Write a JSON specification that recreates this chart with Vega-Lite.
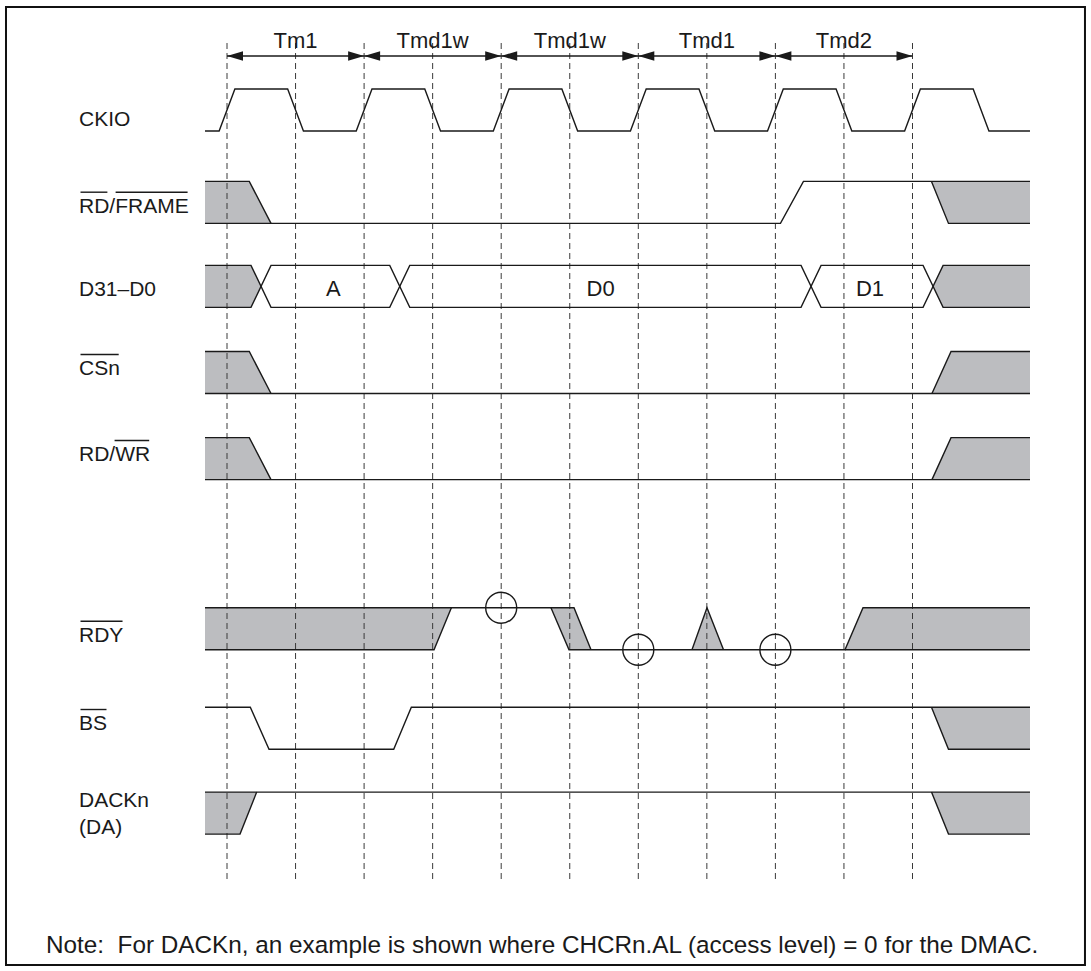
{
  "$schema": "https://vega.github.io/schema/vega-lite/v6.json",
  "width": 1091,
  "height": 971,
  "autosize": {"type": "fit", "contains": "padding"},
  "padding": 0,
  "background": "white",
  "config": {"view": {"stroke": null}},
  "datasets": {
    "border": [{"t": -3.224, "t2": 12.516, "v": 22.952, "v2": 0.143}],
    "ticks": [
      {"t": 0, "v": 22.095, "v2": 2.167}, {"t": 1, "v": 22.095, "v2": 2.167}, {"t": 2, "v": 22.095, "v2": 2.167},
      {"t": 3, "v": 22.095, "v2": 2.167}, {"t": 4, "v": 22.095, "v2": 2.167}, {"t": 5, "v": 22.095, "v2": 2.167},
      {"t": 6, "v": 22.095, "v2": 2.167}, {"t": 7, "v": 22.095, "v2": 2.167}, {"t": 8, "v": 22.095, "v2": 2.167},
      {"t": 9, "v": 22.095, "v2": 2.167}, {"t": 10, "v": 22.095, "v2": 2.167}
    ],
    "spans": [
      {"t": 0, "t2": 2, "v": 21.786}, {"t": 2, "t2": 4, "v": 21.786}, {"t": 4, "t2": 6, "v": 21.786},
      {"t": 6, "t2": 8, "v": 21.786}, {"t": 8, "t2": 10, "v": 21.786}
    ],
    "heads": [
      {"t": 0, "v": 21.786, "dir": "L"}, {"t": 2, "v": 21.786, "dir": "R"},
      {"t": 2, "v": 21.786, "dir": "L"}, {"t": 4, "v": 21.786, "dir": "R"},
      {"t": 4, "v": 21.786, "dir": "L"}, {"t": 6, "v": 21.786, "dir": "R"},
      {"t": 6, "v": 21.786, "dir": "L"}, {"t": 8, "v": 21.786, "dir": "R"},
      {"t": 8, "v": 21.786, "dir": "L"}, {"t": 10, "v": 21.786, "dir": "R"}
    ],
    "circles": [{"t": 4, "v": 8.65}, {"t": 6, "v": 7.65}, {"t": 8, "v": 7.65}],
    "overlines": [
      {"t": -2.137, "t2": -1.745, "v": 18.543},
      {"t": -1.625, "t2": -0.575, "v": 18.543},
      {"t": -2.137, "t2": -1.58, "v": 14.679},
      {"t": -1.64, "t2": -1.135, "v": 12.631},
      {"t": -2.137, "t2": -1.524, "v": 8.329},
      {"t": -2.137, "t2": -1.758, "v": 6.226}
    ],
    "texts": [
      {"kind": "sig", "t": -2.159, "v": 20.119, "txt": "CKIO"},
      {"kind": "sig", "t": -2.159, "v": 18.055, "txt": "RD/FRAME"},
      {"kind": "sig", "t": -2.159, "v": 16.071, "txt": "D31–D0"},
      {"kind": "sig", "t": -2.159, "v": 14.19, "txt": "CSn"},
      {"kind": "sig", "t": -2.159, "v": 12.143, "txt": "RD/WR"},
      {"kind": "sig", "t": -2.159, "v": 7.84, "txt": "RDY"},
      {"kind": "sig", "t": -2.159, "v": 5.738, "txt": "BS"},
      {"kind": "sig", "t": -2.159, "v": 3.912, "txt": "DACKn"},
      {"kind": "sig", "t": -2.159, "v": 3.262, "txt": "(DA)"},
      {"kind": "note", "t": -2.64, "v": 0.429, "txt": "Note:\u00a0 For DACKn, an example is shown where CHCRn.AL (access level) = 0 for the DMAC."},
      {"kind": "cycle", "t": 1, "v": 21.976, "txt": "Tm1"},
      {"kind": "cycle", "t": 3, "v": 21.976, "txt": "Tmd1w"},
      {"kind": "cycle", "t": 5, "v": 21.976, "txt": "Tmd1w"},
      {"kind": "cycle", "t": 7, "v": 21.976, "txt": "Tmd1"},
      {"kind": "cycle", "t": 9, "v": 21.976, "txt": "Tmd2"},
      {"kind": "cycle", "t": 1.55, "v": 16.071, "txt": "A"},
      {"kind": "cycle", "t": 5.45, "v": 16.071, "txt": "D0"},
      {"kind": "cycle", "t": 9.38, "v": 16.071, "txt": "D1"}
    ],
    "areas": [
      {"id": "rdf_s", "t": -0.321, "v": 18.8, "v2": 17.8}, {"id": "rdf_s", "t": 0.325, "v": 18.8, "v2": 17.8}, {"id": "rdf_s", "t": 0.642, "v": 17.8, "v2": 17.8},
      {"id": "rdf_e", "t": 10.277, "v": 18.8, "v2": 18.8}, {"id": "rdf_e", "t": 10.525, "v": 18.8, "v2": 17.8}, {"id": "rdf_e", "t": 11.714, "v": 18.8, "v2": 17.8},
      {"id": "d_s", "t": -0.321, "v": 16.8, "v2": 15.8}, {"id": "d_s", "t": 0.35, "v": 16.8, "v2": 15.8}, {"id": "d_s", "t": 0.496, "v": 16.3, "v2": 16.3},
      {"id": "d_e", "t": 10.3, "v": 16.3, "v2": 16.3}, {"id": "d_e", "t": 10.446, "v": 16.8, "v2": 15.8}, {"id": "d_e", "t": 11.714, "v": 16.8, "v2": 15.8},
      {"id": "cs_s", "t": -0.321, "v": 14.75, "v2": 13.75}, {"id": "cs_s", "t": 0.325, "v": 14.75, "v2": 13.75}, {"id": "cs_s", "t": 0.642, "v": 13.75, "v2": 13.75},
      {"id": "cs_e", "t": 10.284, "v": 13.75, "v2": 13.75}, {"id": "cs_e", "t": 10.562, "v": 14.75, "v2": 13.75}, {"id": "cs_e", "t": 11.714, "v": 14.75, "v2": 13.75},
      {"id": "rw_s", "t": -0.321, "v": 12.7, "v2": 11.7}, {"id": "rw_s", "t": 0.325, "v": 12.7, "v2": 11.7}, {"id": "rw_s", "t": 0.642, "v": 11.7, "v2": 11.7},
      {"id": "rw_e", "t": 10.284, "v": 11.7, "v2": 11.7}, {"id": "rw_e", "t": 10.562, "v": 12.7, "v2": 11.7}, {"id": "rw_e", "t": 11.714, "v": 12.7, "v2": 11.7},
      {"id": "rdy_s", "t": -0.321, "v": 8.65, "v2": 7.65}, {"id": "rdy_s", "t": 3.02, "v": 8.65, "v2": 7.65}, {"id": "rdy_s", "t": 3.273, "v": 8.65, "v2": 8.65},
      {"id": "rdy_p", "t": 4.726, "v": 8.65, "v2": 8.65}, {"id": "rdy_p", "t": 4.989, "v": 8.65, "v2": 7.65}, {"id": "rdy_p", "t": 5.062, "v": 8.65, "v2": 7.65}, {"id": "rdy_p", "t": 5.31, "v": 7.65, "v2": 7.65},
      {"id": "rdy_t", "t": 6.783, "v": 7.65, "v2": 7.65}, {"id": "rdy_t", "t": 7.002, "v": 8.65, "v2": 7.65}, {"id": "rdy_t", "t": 7.243, "v": 7.65, "v2": 7.65},
      {"id": "rdy_e", "t": 9.015, "v": 7.65, "v2": 7.65}, {"id": "rdy_e", "t": 9.278, "v": 8.65, "v2": 7.65}, {"id": "rdy_e", "t": 11.714, "v": 8.65, "v2": 7.65},
      {"id": "bs_e", "t": 10.277, "v": 6.28, "v2": 6.28}, {"id": "bs_e", "t": 10.525, "v": 6.28, "v2": 5.28}, {"id": "bs_e", "t": 11.714, "v": 6.28, "v2": 5.28},
      {"id": "da_s", "t": -0.321, "v": 4.26, "v2": 3.26}, {"id": "da_s", "t": 0.19, "v": 4.26, "v2": 3.26}, {"id": "da_s", "t": 0.433, "v": 4.26, "v2": 4.26},
      {"id": "da_e", "t": 10.277, "v": 4.26, "v2": 4.26}, {"id": "da_e", "t": 10.525, "v": 4.26, "v2": 3.26}, {"id": "da_e", "t": 11.714, "v": 4.26, "v2": 3.26}
    ],
    "lines": [
      {"id": "ckio", "i": 0, "t": -0.321, "v": 20},
      {"id": "ckio", "i": 1, "t": -0.115, "v": 20}, {"id": "ckio", "i": 2, "t": 0.115, "v": 21},
      {"id": "ckio", "i": 3, "t": 0.885, "v": 21}, {"id": "ckio", "i": 4, "t": 1.115, "v": 20},
      {"id": "ckio", "i": 5, "t": 1.885, "v": 20}, {"id": "ckio", "i": 6, "t": 2.115, "v": 21},
      {"id": "ckio", "i": 7, "t": 2.885, "v": 21}, {"id": "ckio", "i": 8, "t": 3.115, "v": 20},
      {"id": "ckio", "i": 9, "t": 3.885, "v": 20}, {"id": "ckio", "i": 10, "t": 4.115, "v": 21},
      {"id": "ckio", "i": 11, "t": 4.885, "v": 21}, {"id": "ckio", "i": 12, "t": 5.115, "v": 20},
      {"id": "ckio", "i": 13, "t": 5.885, "v": 20}, {"id": "ckio", "i": 14, "t": 6.115, "v": 21},
      {"id": "ckio", "i": 15, "t": 6.885, "v": 21}, {"id": "ckio", "i": 16, "t": 7.115, "v": 20},
      {"id": "ckio", "i": 17, "t": 7.885, "v": 20}, {"id": "ckio", "i": 18, "t": 8.115, "v": 21},
      {"id": "ckio", "i": 19, "t": 8.885, "v": 21}, {"id": "ckio", "i": 20, "t": 9.115, "v": 20},
      {"id": "ckio", "i": 21, "t": 9.885, "v": 20}, {"id": "ckio", "i": 22, "t": 10.115, "v": 21},
      {"id": "ckio", "i": 23, "t": 10.885, "v": 21}, {"id": "ckio", "i": 24, "t": 11.115, "v": 20},
      {"id": "ckio", "i": 25, "t": 11.714, "v": 20},
      {"id": "rdf_a", "i": 0, "t": -0.321, "v": 18.8}, {"id": "rdf_a", "i": 1, "t": 0.325, "v": 18.8}, {"id": "rdf_a", "i": 2, "t": 0.642, "v": 17.8},
      {"id": "rdf_b", "i": 0, "t": -0.321, "v": 17.8}, {"id": "rdf_b", "i": 1, "t": 8.074, "v": 17.8}, {"id": "rdf_b", "i": 2, "t": 8.409, "v": 18.8}, {"id": "rdf_b", "i": 3, "t": 11.714, "v": 18.8},
      {"id": "rdf_c", "i": 0, "t": 10.277, "v": 18.8}, {"id": "rdf_c", "i": 1, "t": 10.525, "v": 17.8}, {"id": "rdf_c", "i": 2, "t": 11.714, "v": 17.8},
      {"id": "d_p1", "i": 0, "t": -0.321, "v": 16.8}, {"id": "d_p1", "i": 1, "t": 0.35, "v": 16.8}, {"id": "d_p1", "i": 2, "t": 0.642, "v": 15.8},
      {"id": "d_p1", "i": 3, "t": 2.374, "v": 15.8}, {"id": "d_p1", "i": 4, "t": 2.666, "v": 16.8}, {"id": "d_p1", "i": 5, "t": 8.374, "v": 16.8},
      {"id": "d_p1", "i": 6, "t": 8.666, "v": 15.8}, {"id": "d_p1", "i": 7, "t": 10.154, "v": 15.8}, {"id": "d_p1", "i": 8, "t": 10.446, "v": 16.8},
      {"id": "d_p1", "i": 9, "t": 11.714, "v": 16.8},
      {"id": "d_p2", "i": 0, "t": -0.321, "v": 15.8}, {"id": "d_p2", "i": 1, "t": 0.35, "v": 15.8}, {"id": "d_p2", "i": 2, "t": 0.642, "v": 16.8},
      {"id": "d_p2", "i": 3, "t": 2.374, "v": 16.8}, {"id": "d_p2", "i": 4, "t": 2.666, "v": 15.8}, {"id": "d_p2", "i": 5, "t": 8.374, "v": 15.8},
      {"id": "d_p2", "i": 6, "t": 8.666, "v": 16.8}, {"id": "d_p2", "i": 7, "t": 10.154, "v": 16.8}, {"id": "d_p2", "i": 8, "t": 10.446, "v": 15.8},
      {"id": "d_p2", "i": 9, "t": 11.714, "v": 15.8},
      {"id": "cs_a", "i": 0, "t": -0.321, "v": 14.75}, {"id": "cs_a", "i": 1, "t": 0.325, "v": 14.75}, {"id": "cs_a", "i": 2, "t": 0.642, "v": 13.75},
      {"id": "cs_b", "i": 0, "t": -0.321, "v": 13.75}, {"id": "cs_b", "i": 1, "t": 11.714, "v": 13.75},
      {"id": "cs_c", "i": 0, "t": 10.284, "v": 13.75}, {"id": "cs_c", "i": 1, "t": 10.562, "v": 14.75}, {"id": "cs_c", "i": 2, "t": 11.714, "v": 14.75},
      {"id": "rw_a", "i": 0, "t": -0.321, "v": 12.7}, {"id": "rw_a", "i": 1, "t": 0.325, "v": 12.7}, {"id": "rw_a", "i": 2, "t": 0.642, "v": 11.7},
      {"id": "rw_b", "i": 0, "t": -0.321, "v": 11.7}, {"id": "rw_b", "i": 1, "t": 11.714, "v": 11.7},
      {"id": "rw_c", "i": 0, "t": 10.284, "v": 11.7}, {"id": "rw_c", "i": 1, "t": 10.562, "v": 12.7}, {"id": "rw_c", "i": 2, "t": 11.714, "v": 12.7},
      {"id": "rdy1", "i": 0, "t": -0.321, "v": 8.65}, {"id": "rdy1", "i": 1, "t": 5.062, "v": 8.65}, {"id": "rdy1", "i": 2, "t": 5.31, "v": 7.65},
      {"id": "rdy2", "i": 0, "t": -0.321, "v": 7.65}, {"id": "rdy2", "i": 1, "t": 3.02, "v": 7.65}, {"id": "rdy2", "i": 2, "t": 3.273, "v": 8.65},
      {"id": "rdy3", "i": 0, "t": 4.726, "v": 8.65}, {"id": "rdy3", "i": 1, "t": 4.989, "v": 7.65}, {"id": "rdy3", "i": 2, "t": 9.015, "v": 7.65},
      {"id": "rdy3", "i": 3, "t": 9.278, "v": 8.65}, {"id": "rdy3", "i": 4, "t": 11.714, "v": 8.65},
      {"id": "rdy4", "i": 0, "t": 9.015, "v": 7.65}, {"id": "rdy4", "i": 1, "t": 11.714, "v": 7.65},
      {"id": "rdy5", "i": 0, "t": 6.783, "v": 7.65}, {"id": "rdy5", "i": 1, "t": 7.002, "v": 8.65}, {"id": "rdy5", "i": 2, "t": 7.243, "v": 7.65},
      {"id": "bs_a", "i": 0, "t": -0.321, "v": 6.28}, {"id": "bs_a", "i": 1, "t": 0.34, "v": 6.28}, {"id": "bs_a", "i": 2, "t": 0.613, "v": 5.28},
      {"id": "bs_a", "i": 3, "t": 2.432, "v": 5.28}, {"id": "bs_a", "i": 4, "t": 2.689, "v": 6.28}, {"id": "bs_a", "i": 5, "t": 11.714, "v": 6.28},
      {"id": "bs_c", "i": 0, "t": 10.277, "v": 6.28}, {"id": "bs_c", "i": 1, "t": 10.525, "v": 5.28}, {"id": "bs_c", "i": 2, "t": 11.714, "v": 5.28},
      {"id": "da_a", "i": 0, "t": -0.321, "v": 3.26}, {"id": "da_a", "i": 1, "t": 0.19, "v": 3.26}, {"id": "da_a", "i": 2, "t": 0.433, "v": 4.26},
      {"id": "da_b", "i": 0, "t": -0.321, "v": 4.26}, {"id": "da_b", "i": 1, "t": 11.714, "v": 4.26},
      {"id": "da_c", "i": 0, "t": 10.277, "v": 4.26}, {"id": "da_c", "i": 1, "t": 10.525, "v": 3.26}, {"id": "da_c", "i": 2, "t": 11.714, "v": 3.26}
    ]
  },
  "encoding": {
    "x": {"field": "t", "type": "quantitative", "scale": {"domain": [-3.3115, 12.6039], "nice": false, "zero": false}, "axis": null},
    "y": {"field": "v", "type": "quantitative", "scale": {"domain": [0, 23.119], "nice": false, "zero": false}, "axis": null}
  },
  "layer": [
    {
      "data": {"name": "border"},
      "mark": {"type": "rect", "fill": "transparent", "stroke": "#111111", "strokeWidth": 2},
      "encoding": {"x2": {"field": "t2"}, "y2": {"field": "v2"}}
    },
    {
      "data": {"name": "areas"},
      "mark": {"type": "area", "color": "#bcbdc0", "opacity": 1},
      "encoding": {"y2": {"field": "v2"}, "detail": {"field": "id"}, "y": {"field": "v", "type": "quantitative", "stack": null, "scale": {"domain": [0, 23.119], "nice": false, "zero": false}, "axis": null}}
    },
    {
      "data": {"name": "ticks"},
      "mark": {"type": "rule", "color": "#3a3a3a", "strokeWidth": 1, "strokeDash": [6, 4]},
      "encoding": {"y2": {"field": "v2"}}
    },
    {
      "data": {"name": "lines"},
      "mark": {"type": "line", "color": "#1a1a1a", "strokeWidth": 1.4},
      "encoding": {"detail": {"field": "id"}, "order": {"field": "i", "type": "quantitative"}}
    },
    {
      "data": {"name": "spans"},
      "mark": {"type": "rule", "color": "#1a1a1a", "strokeWidth": 1.4},
      "encoding": {"x2": {"field": "t2"}}
    },
    {
      "data": {"name": "heads"},
      "mark": {"type": "point", "filled": true, "color": "#1a1a1a", "opacity": 1, "size": 1024, "strokeWidth": 0},
      "encoding": {"shape": {"field": "dir", "type": "nominal", "legend": null, "scale": {"domain": ["L", "R"], "range": ["M0,0L1,-0.3L1,0.3Z", "M0,0L-1,-0.3L-1,0.3Z"]}}}
    },
    {
      "data": {"name": "circles"},
      "mark": {"type": "point", "shape": "circle", "filled": false, "color": "#1a1a1a", "opacity": 1, "size": 961, "strokeWidth": 1.4}
    },
    {
      "data": {"name": "overlines"},
      "mark": {"type": "rule", "color": "#1a1a1a", "strokeWidth": 1.4},
      "encoding": {"x2": {"field": "t2"}}
    },
    {
      "data": {"name": "texts"},
      "transform": [{"filter": "datum.kind === 'sig'"}],
      "mark": {"type": "text", "align": "left", "baseline": "alphabetic", "font": "Liberation Sans", "fontSize": 21, "color": "#1a1a1a"},
      "encoding": {"text": {"field": "txt"}}
    },
    {
      "data": {"name": "texts"},
      "transform": [{"filter": "datum.kind === 'note'"}],
      "mark": {"type": "text", "align": "left", "baseline": "alphabetic", "font": "Liberation Sans", "fontSize": 24.3, "color": "#1a1a1a"},
      "encoding": {"text": {"field": "txt"}}
    },
    {
      "data": {"name": "texts"},
      "transform": [{"filter": "datum.kind === 'cycle'"}],
      "mark": {"type": "text", "align": "center", "baseline": "alphabetic", "font": "Liberation Sans", "fontSize": 22, "color": "#1a1a1a"},
      "encoding": {"text": {"field": "txt"}}
    }
  ]
}
